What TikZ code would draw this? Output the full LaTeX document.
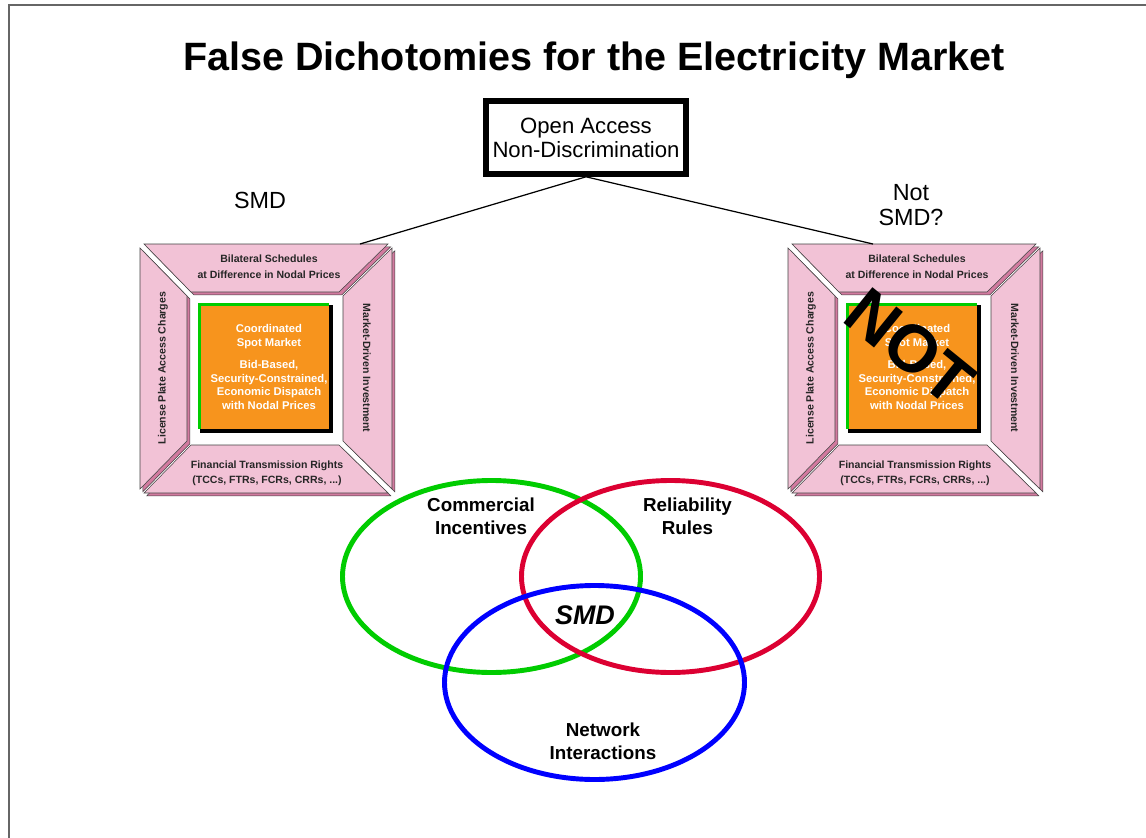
\documentclass[tikz,border=0pt]{standalone}
\usepackage{fontspec}
\setmainfont{Liberation Sans}
\usetikzlibrary{positioning}
\definecolor{framepink}{HTML}{F2C2D6}
\definecolor{frameedge}{HTML}{D27A9F}
\definecolor{spotorange}{HTML}{F7941D}
\definecolor{spotgreen}{HTML}{00CC00}
\definecolor{vennred}{HTML}{DC0032}
\definecolor{vennblue}{HTML}{0000FF}

\begin{document}
\begin{tikzpicture}[
  x=0.02cm, y=-0.02cm,
  bevel/.style={fill=framepink, draw=black!75, line width=0.3pt,
    preaction={fill=frameedge, draw=black!75, line width=0.3pt, transform canvas={xshift=1.6pt, yshift=-1.6pt}}},
  bevellabel/.style={font=\bfseries\fontsize{6}{9.4}\selectfont, align=center, text=black!85, inner sep=0pt},
  spotlabel/.style={font=\bfseries\fontsize{6.4}{7.8}\selectfont, align=center, text=white, inner sep=0pt},
  topbox/.style={draw, line width=3.2pt, minimum width=4cm, minimum height=1.46cm, font=\fontsize{12.6}{13.6}\selectfont, align=center},
  plainlabel/.style={font=\fontsize{13.3}{14.2}\selectfont, align=center},
  venn/.style={line width=2.8pt},
  vennlabel/.style={font=\bfseries\fontsize{10.7}{13}\selectfont, align=center},
  link/.style={line width=0.7pt}
]
  \useasboundingbox (0,0) rectangle (1146,838);
  \draw[black!60, line width=1.1pt] (9,838) -- (9,5) -- (1146,5);

  \node[font=\bfseries\fontsize{22.5}{27}\selectfont] (title) at (594,60) {False Dichotomies for the Electricity Market};

  \node[topbox] (oa) at (586,137.5) {Open Access\\Non-Discrimination};
  \node[plainlabel] (smdlabel) at (260,200) {SMD};
  \node[plainlabel] (notsmd) at (911,205) {Not\\SMD?};

  % the two market frames
  \foreach \fx/\fn/\fp in {140/smd/220, 788/not/85} {
    \begin{scope}[shift={(\fx,244)}]
      \draw[bevel] (4,0) -- (248,0) -- (199,48) -- (51,48) -- cycle;
      \draw[bevel] (0,4) -- (47,52) -- (47,197) -- (0,245) -- cycle;
      \draw[bevel] (252,4) -- (252,245) -- (203,197) -- (203,52) -- cycle;
      \draw[bevel] (4,249) -- (51,201) -- (199,201) -- (248,249) -- cycle;
      \fill[black] (60,61) rectangle (193,189);
      \fill[spotgreen] (58,59) rectangle (189,185);
      \fill[spotorange] (61,62) rectangle (189,185);
      \node[bevellabel] (\fn-top) at (129,22.5) {Bilateral Schedules\\at Difference in Nodal Prices};
      \node[bevellabel, font=\bfseries\fontsize{6}{8.5}\selectfont] (\fn-bottom) at (127,229.5) {Financial Transmission Rights\\(TCCs, FTRs, FCRs, CRRs, ...)};
      \node[bevellabel, rotate=90] (\fn-left) at (23,124) {License Plate Access Charges};
      \node[bevellabel, rotate=-90] (\fn-right) at (227,124) {Market-Driven Investment};
      \node[spotlabel] (\fn-spot) at (129,123) {Coordinated\\Spot Market\\[5pt]Bid-Based,\\Security-Constrained,\\Economic Dispatch\\with Nodal Prices};
      \coordinate (\fn-peak) at (\fp,0);
    \end{scope}
  }
  \node[font=\bfseries\fontsize{38}{38}\selectfont, rotate=-39] (notmark) at (910,347) {NOT};

  \draw[link] (oa.south) -- (smd-peak);
  \draw[link] (oa.south) -- (not-peak);

  % three overlapping rings
  \draw[venn, spotgreen] (491.5,576.5) ellipse [x radius=149, y radius=96];
  \draw[venn, vennred] (670.5,576.5) ellipse [x radius=149, y radius=96];
  \draw[venn, vennblue] (594.5,682.5) ellipse [x radius=150, y radius=97];

  \node[vennlabel] (commercial) at (481,516.5) {Commercial\\Incentives};
  \node[vennlabel] (reliability) at (687.5,516.5) {Reliability\\Rules};
  \node[vennlabel] (network) at (603,741.5) {Network\\Interactions};
  \node[font=\bfseries\itshape\fontsize{15.3}{16}\selectfont] (smdcore) at (585,615) {SMD};
\end{tikzpicture}
\end{document}
